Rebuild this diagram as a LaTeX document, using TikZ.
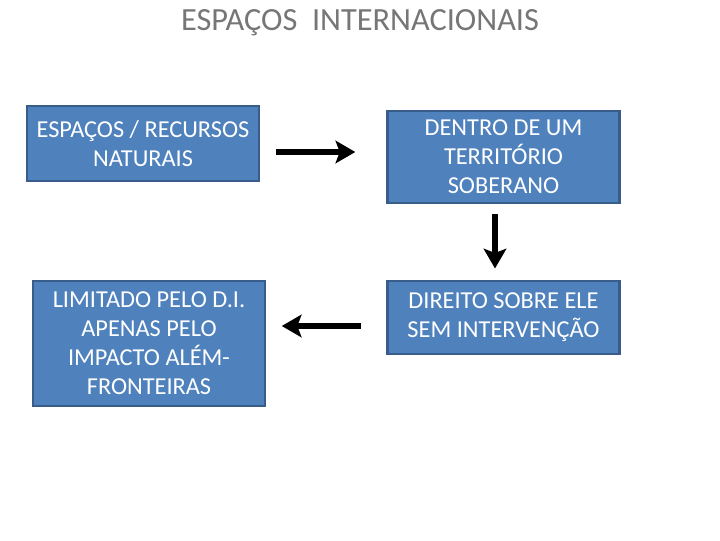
\documentclass[tikz,border=0pt]{standalone}
\usepackage{fontspec}
\setmainfont{Carlito}
\usepackage{tikz}
\usetikzlibrary{arrows.meta, positioning}
\definecolor{boxblue}{RGB}{79,129,189}
\definecolor{boxedge}{RGB}{56,93,138}
\definecolor{titlegray}{RGB}{118,118,118}

\begin{document}
\begin{tikzpicture}[
  x=0.025cm, y=-0.025cm,
  box/.style={rectangle, draw=boxedge, line width=1.8pt, fill=boxblue,
              text=white, minimum width=5.8cm, align=center,
              font=\fontsize{17.3}{20.6}\selectfont},
  arrow/.style={-{Stealth[length=14pt, width=16pt, inset=3pt]}, line width=4.2pt, black}
]
\useasboundingbox (0,0) rectangle (720,540);

\node[font=\fontsize{23}{27}\selectfont, text=titlegray] (title) at (360,23) {ESPAÇOS\ \ INTERNACIONAIS};

\node[box, minimum height=1.875cm] (recursos)  at (143,143.5) {ESPAÇOS / RECURSOS\\NATURAIS};
\node[box, minimum height=2.3cm]   (territorio) at (503.5,157) {DENTRO DE UM\\TERRITÓRIO\\SOBERANO};
\node[box, minimum height=1.825cm] (direito)  at (503.5,317.5) {DIREITO SOBRE ELE\\SEM INTERVENÇÃO};
\node[box, minimum height=3.125cm] (limitado) at (149,343.5) {LIMITADO PELO D.I.\\APENAS PELO\\IMPACTO ALÉM-\\FRONTEIRAS};

\draw[arrow, shorten <=11pt, shorten >=22pt] (recursos.east |- 0,152) -- (territorio.west |- 0,152);
\draw[arrow, shorten <=7pt, shorten >=8pt] (territorio.south -| 495,0) -- (direito.north -| 495,0);
\draw[arrow, shorten <=18pt, shorten >=11pt] (direito.west |- 0,326) -- (limitado.east |- 0,326);
\end{tikzpicture}
\end{document}
